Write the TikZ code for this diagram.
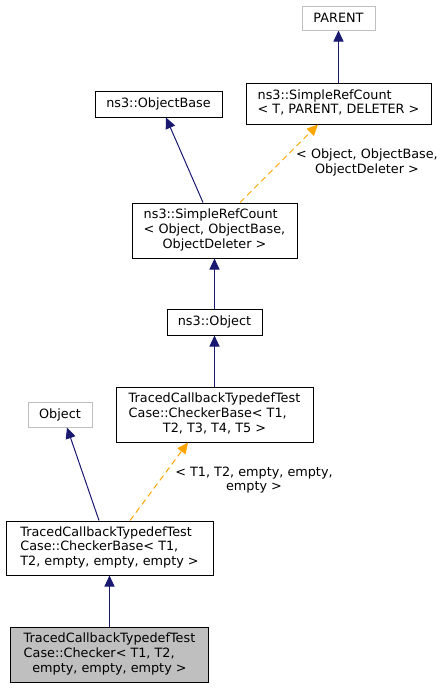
\documentclass[tikz,border=0pt]{standalone}
\usepackage{fontspec}
\setmainfont{DejaVu Sans}
\usetikzlibrary{arrows.meta}
\definecolor{navy1}{HTML}{191970}
\definecolor{orange1}{HTML}{FFA500}
\definecolor{gray1}{HTML}{BFBFBF}
\tikzset{cls/.style={draw=black,line width=1pt,fill=white,inner sep=0pt,align=center,font=\fontsize{12.8}{14.6}\selectfont}}
\tikzset{ext/.style={cls,draw=gray1}}
\tikzset{inherit/.style={draw=navy1,line width=1pt,-{Triangle[length=11pt,width=10pt]}}}
\tikzset{templ/.style={draw=orange1,line width=1pt,dash pattern=on 6pt off 4pt,-{Triangle[length=11pt,width=10pt]}}}
\tikzset{lbl/.style={align=center,inner sep=0pt,font=\fontsize{12.8}{14.6}\selectfont}}
\newcommand{\twolines}[2]{\begin{tabular}{@{}l@{}}#1\\#2\end{tabular}}
\newcommand{\threelines}[3]{\begin{tabular}{@{}l@{}}#1\\#2\\\multicolumn{1}{@{}c@{}}{#3}\end{tabular}}
\begin{document}
\begin{tikzpicture}[x=1pt,y=-1pt]
\useasboundingbox (0,0) rectangle (444,688);
\node[ext,minimum width=73pt,minimum height=24pt] (parent) at (338.5,18) {PARENT};
\node[cls,minimum width=185pt,minimum height=41pt] (srcT) at (338.5,103.5)
  {\twolines{ns3::SimpleRefCount}{< T, PARENT, DELETER >}};
\node[cls,minimum width=127pt,minimum height=26pt] (objbase) at (158.5,104) {ns3::ObjectBase};
\node[cls,minimum width=165pt,minimum height=55pt] (srcObj) at (214.5,230.5)
  {\threelines{ns3::SimpleRefCount}{< Object, ObjectBase,}{ObjectDeleter >}};
\node[cls,minimum width=95pt,minimum height=26pt] (nsobj) at (214.5,322) {ns3::Object};
\node[cls,minimum width=197pt,minimum height=55pt] (cbFive) at (214.5,414.5)
  {\threelines{TracedCallbackTypedefTest}{Case::CheckerBase< T1,}{T2, T3, T4, T5 >}};
\node[ext,minimum width=64pt,minimum height=25pt] (obj) at (60,414.5) {Object};
\node[cls,minimum width=207pt,minimum height=54pt] (cbEmpty) at (109.5,548)
  {\threelines{TracedCallbackTypedefTest}{Case::CheckerBase< T1,}{T2, empty, empty, empty >}};
\node[cls,fill=gray1,minimum width=198pt,minimum height=55pt] (checker) at (109.5,654.5)
  {\threelines{TracedCallbackTypedefTest}{Case::Checker< T1, T2,}{empty, empty, empty >}};
\node[lbl] (lblSrc) at (367,162.5) {< Object, ObjectBase,\\ObjectDeleter >};
\node[lbl] (lblCb) at (254,480) {< T1, T2, empty, empty,\\empty >};
\draw[inherit] (srcT.north) -- (parent.south);
\draw[inherit] ([xshift=-11.5pt]srcObj.north) -- ([xshift=7.5pt]objbase.south);
\draw[templ] ([xshift=25.5pt]srcObj.north) -- ([xshift=-20.5pt]srcT.south);
\draw[inherit] (nsobj.north) -- (srcObj.south);
\draw[inherit] (cbFive.north) -- (nsobj.south);
\draw[inherit] ([xshift=-10.5pt]cbEmpty.north) -- ([xshift=7pt]obj.south);
\draw[templ] ([xshift=20.5pt]cbEmpty.north) -- ([xshift=-26.5pt]cbFive.south);
\draw[inherit] (checker.north) -- (cbEmpty.south);
\end{tikzpicture}
\end{document}
